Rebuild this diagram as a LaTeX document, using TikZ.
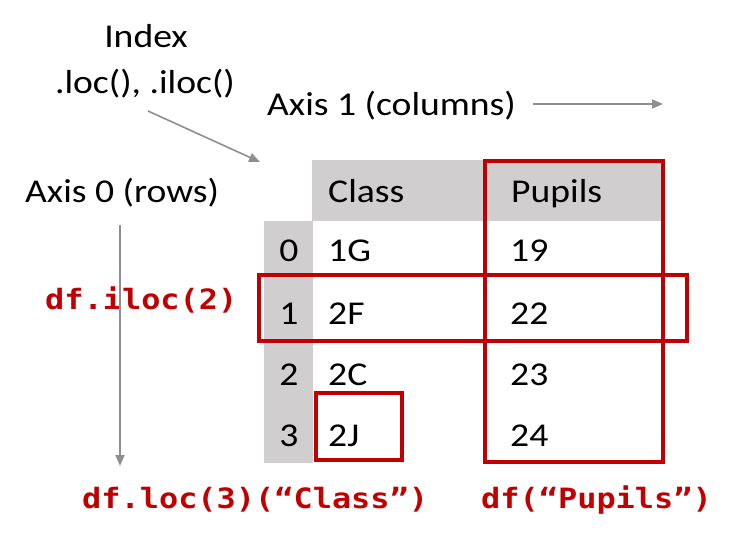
\documentclass[tikz,border=0pt]{standalone}
\usepackage{fontspec}
\setmainfont{Carlito}
\newfontfamily\codefont{DejaVu Sans Mono}
\usetikzlibrary{arrows.meta}
\definecolor{dred}{HTML}{C00000}
\definecolor{hgray}{HTML}{D0CECE}
\definecolor{agray}{HTML}{8F8F8F}
\newcommand{\hs}[1]{\scalebox{1.13}[1]{#1}}
\newcommand{\cs}[1]{\scalebox{1.14}[1]{#1}}
\begin{document}
\begin{tikzpicture}[x=1pt,y=-1pt,
  lbl/.style={font=\fontsize{33.3}{36}\selectfont, inner sep=0pt, anchor=base},
  cellw/.style={lbl, anchor=base west},
  code/.style={font=\codefont\bfseries\fontsize{28}{32}\selectfont, text=dred, inner sep=0pt, anchor=base west},
  garrow/.style={draw=agray, line width=1.6pt, -{Triangle[length=11pt,width=9pt]}},
  redbox/.style={draw=dred, line width=3.5pt}]
\useasboundingbox (0,0) rectangle (731,537);
% gray header and index column
\fill[hgray] (312,160) rectangle (665,221);
\fill[hgray] (264,221) rectangle (313,463);
% labels
\node[lbl] (index) at (146,48) {\hs{Index}};
\node[lbl] (loc) at (145,94) {\hs{.loc(), .iloc()}};
\node[cellw] (axis1) at (267,116) {\hs{Axis 1 (columns)}};
\node[cellw] (axis0) at (25,203) {\hs{Axis 0 (rows)}};
% header
\node[cellw] (hclass) at (328,203) {\hs{Class}};
\node[cellw] (hpupils) at (511,203) {\hs{Pupils}};
% index
\node[lbl] (i0) at (289,262) {\hs{0}};
\node[lbl] (i1) at (289,324) {\hs{1}};
\node[lbl] (i2) at (289,385) {\hs{2}};
\node[lbl] (i3) at (289,446) {\hs{3}};
% class column
\node[cellw] (c0) at (328,262) {\hs{1G}};
\node[cellw] (c1) at (328,324) {\hs{2F}};
\node[cellw] (c2) at (328,385) {\hs{2C}};
\node[cellw] (c3) at (328,446) {\hs{2J}};
% pupils column
\node[cellw] (p0) at (510,262) {\hs{19}};
\node[cellw] (p1) at (510,324) {\hs{22}};
\node[cellw] (p2) at (510,385) {\hs{23}};
\node[cellw] (p3) at (510,446) {\hs{24}};
% code labels
\node[code] (iloc) at (45,310) {\cs{df.iloc(2)}};
\node[code] (locc) at (82,508) {\cs{df.loc(3)(“Class”)}};
\node[code] (dfp) at (481,508) {\cs{df(“Pupils”)}};
% arrows
\coordinate (ia) at (148,111);
\coordinate (ib) at (260,162);
\coordinate (ca) at (533,104);
\coordinate (cb) at (663,104);
\coordinate (ra) at (120,225);
\coordinate (rb) at (120,466);
\draw[garrow] (ia) -- (ib);
\draw[garrow] (ca) -- (cb);
\draw[garrow] (ra) -- (rb);
% red selection boxes
\draw[redbox] (485,161) rectangle (663,462);
\draw[redbox] (259,275) rectangle (687,341);
\draw[redbox] (316,393) rectangle (402,460);
\end{tikzpicture}
\end{document}
